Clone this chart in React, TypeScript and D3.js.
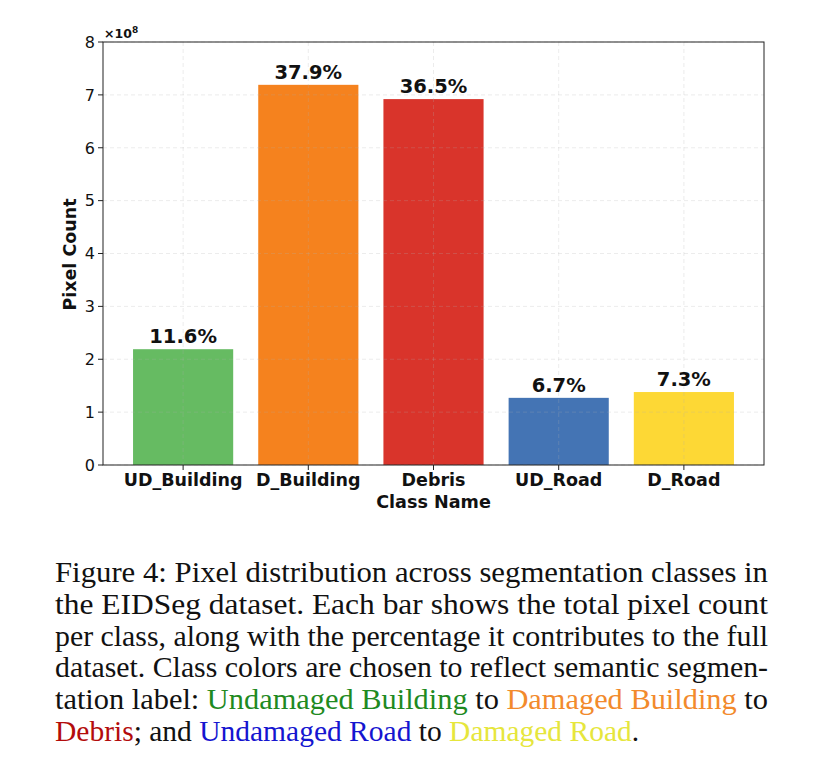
import React from "react";
import * as d3 from "d3";

const categories = ["UD_Building", "D_Building", "Debris", "UD_Road", "D_Road"];
const pixelCounts = [2.19e8, 7.19e8, 6.92e8, 1.27e8, 1.38e8];
const percentLabels = ["11.6%", "37.9%", "36.5%", "6.7%", "7.3%"];
const barColors = ["#66bb62", "#f5821e", "#d9342b", "#4474b4", "#fdd835"];
const yTicks = [0, 1, 2, 3, 4, 5, 6, 7, 8];

type Seg = { t: string; c?: string };
const captionLines: Seg[][] = [
  [{ t: "Figure 4: Pixel distribution across segmentation classes in" }],
  [{ t: "the EIDSeg dataset. Each bar shows the total pixel count" }],
  [{ t: "per class, along with the percentage it contributes to the full" }],
  [{ t: "dataset. Class colors are chosen to reflect semantic segmen-" }],
  [
    { t: "tation label: " },
    { t: "Undamaged Building", c: "#1f8a1f" },
    { t: " to " },
    { t: "Damaged Building", c: "#f28a2c" },
    { t: " to" },
  ],
  [
    { t: "Debris", c: "#b30c0c" },
    { t: "; and " },
    { t: "Undamaged Road", c: "#1515d0" },
    { t: " to " },
    { t: "Damaged Road", c: "#e6e63c" },
    { t: "." },
  ],
];

export default function App() {
  const W = 826;
  const H = 783;
  const left = 103;
  const right = 764;
  const top = 42;
  const bottom = 465;

  const idx = categories.map((_, i) => i);
  const x = d3.scaleLinear().domain([-0.64, 4.64]).range([left, right]);
  const y = d3.scaleLinear().domain([0, 8e8]).range([bottom, top]);
  const bw = x(0.4) - x(-0.4);

  const dejavu = "DejaVu Sans, sans-serif";
  const gridStyle = { stroke: "#b0b0b0", strokeOpacity: 0.3, strokeDasharray: "4,3", strokeWidth: 0.8 };

  return (
    <svg width={W} height={H} style={{ position: "absolute", left: 0, top: 0, background: "#fff" }}>
      <rect width={W} height={H} fill="#fff" />
      {/* bars */}
      {idx.map((i) => (
        <rect
          key={"b" + i}
          x={x(i) - bw / 2}
          y={y(pixelCounts[i])}
          width={bw}
          height={bottom - y(pixelCounts[i])}
          fill={barColors[i]}
        />
      ))}
      {/* grid */}
      {yTicks.map((t) => (
        <line key={"gy" + t} x1={left} x2={right} y1={y(t * 1e8)} y2={y(t * 1e8)} style={gridStyle} />
      ))}
      {idx.map((i) => (
        <line key={"gx" + i} x1={x(i)} x2={x(i)} y1={top} y2={bottom} style={gridStyle} />
      ))}
      {/* frame */}
      <rect x={left} y={top} width={right - left} height={bottom - top} fill="none" stroke="#222" strokeWidth={1} />
      {/* y ticks */}
      {yTicks.map((t) => (
        <g key={"yt" + t}>
          <line x1={left - 5} x2={left} y1={y(t * 1e8)} y2={y(t * 1e8)} stroke="#222" strokeWidth={1} />
          <text
            x={left - 8}
            y={y(t * 1e8)}
            dy="0.36em"
            textAnchor="end"
            fontFamily={dejavu}
            fontSize={16}
            fill="#111"
          >
            {t}
          </text>
        </g>
      ))}
      <text x={left + 1} y={top - 4} fontFamily={dejavu} fontSize={12.5} fontWeight="bold" fill="#111">
        ×10<tspan dy={-5} fontSize={9}>8</tspan>
      </text>
      {/* x ticks */}
      {idx.map((i) => (
        <g key={"xt" + i}>
          <line x1={x(i)} x2={x(i)} y1={bottom} y2={bottom + 5} stroke="#222" strokeWidth={1} />
          <text
            x={x(i)}
            y={bottom + 21}
            textAnchor="middle"
            fontFamily={dejavu}
            fontSize={17.5}
            fontWeight="bold"
            fill="#111"
          >
            {categories[i]}
          </text>
        </g>
      ))}
      {/* value labels */}
      {idx.map((i) => (
        <text
          key={"pl" + i}
          x={x(i)}
          y={y(pixelCounts[i]) - 6}
          textAnchor="middle"
          fontFamily={dejavu}
          fontSize={19.5}
          fontWeight="bold"
          fill="#111"
        >
          {percentLabels[i]}
        </text>
      ))}
      {/* axis titles */}
      <text
        x={(left + right) / 2}
        y={bottom + 43}
        textAnchor="middle"
        fontFamily={dejavu}
        fontSize={17.6}
        fontWeight="bold"
        fill="#111"
      >
        Class Name
      </text>
      <text
        transform={`translate(76, ${(top + bottom) / 2 + 1}) rotate(-90)`}
        textAnchor="middle"
        fontFamily={dejavu}
        fontSize={17.5}
        fontWeight="bold"
        fill="#111"
      >
        Pixel Count
      </text>
      {/* caption */}
      {captionLines.map((line, li) => {
        const isLast = li === captionLines.length - 1;
        return (
          <text
            key={"cap" + li}
            x={55}
            y={582 + li * 31.8}
            fontFamily="Liberation Serif, Times New Roman, serif"
            fontSize={29.5}
            fill="#111"
            {...(isLast ? {} : { textLength: 713, lengthAdjust: "spacingAndGlyphs" })}
          >
            {line.map((s, si) => (
              <tspan key={si} fill={s.c || "#111"}>
                {s.t}
              </tspan>
            ))}
          </text>
        );
      })}
    </svg>
  );
}
